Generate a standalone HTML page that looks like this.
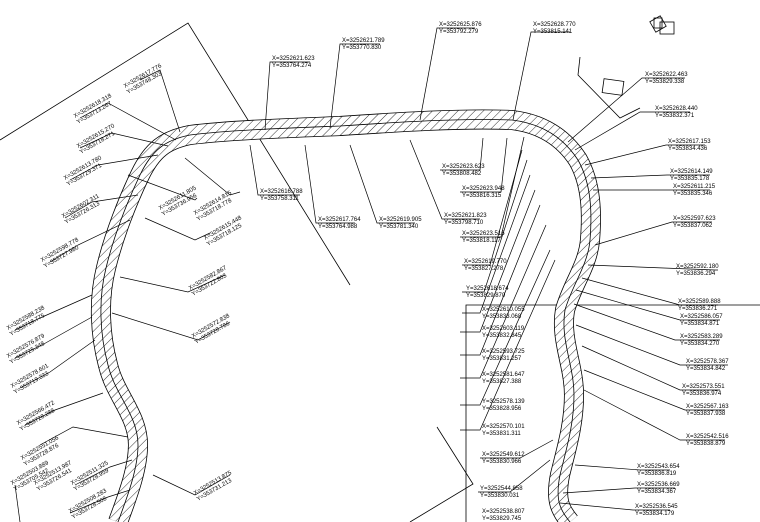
<!DOCTYPE html>
<html><head><style>
html,body{margin:0;padding:0;background:#fff}
svg{display:block}
text{font-family:"Liberation Sans",sans-serif;font-size:6px;fill:#000}
</style></head><body>
<svg width="760" height="522" viewBox="0 0 760 522" xmlns="http://www.w3.org/2000/svg">
<defs>
<pattern id="h" width="6" height="6" patternUnits="userSpaceOnUse" patternTransform="rotate(45)">
<rect width="6" height="6" fill="#fff"/><line x1="0" y1="0" x2="0" y2="6" stroke="#000" stroke-width="0.8"/>
</pattern>
</defs>
<g fill="none" stroke="#000" stroke-width="0.8">
<polyline points="0,140 188,23 350,285"/>
<polyline points="466,522 466,305 760,305"/>
<polyline points="437,427 473,484 410,522"/>
<polyline points="580,57 578,75 620,118 640,108"/>
<rect x="603" y="80" width="20" height="14" transform="rotate(8 613 87)"/>
<rect x="652" y="18" width="12" height="12" transform="rotate(-30 658 24)"/>
<rect x="660" y="22" width="14" height="12"/>
<rect x="654" y="18" width="8" height="10"/>
</g>
<g fill="none">
<path d="M118,522 C126,500 138,470 138,445 C138,415 115,395 108,365 C100,335 98,300 106,268 C114,235 128,200 140,175 C152,150 165,140 190,135 C230,130 290,128 340,126 C400,122 460,118 512,120 C545,124 565,140 578,160 C592,185 592,215 590,240 C588,265 572,285 565,310 C560,340 574,365 574,395 C574,425 566,450 560,475 C555,500 560,510 570,522" stroke="#000" stroke-width="20"/>
<path d="M118,522 C126,500 138,470 138,445 C138,415 115,395 108,365 C100,335 98,300 106,268 C114,235 128,200 140,175 C152,150 165,140 190,135 C230,130 290,128 340,126 C400,122 460,118 512,120 C545,124 565,140 578,160 C592,185 592,215 590,240 C588,265 572,285 565,310 C560,340 574,365 574,395 C574,425 566,450 560,475 C555,500 560,510 570,522" stroke="url(#h)" stroke-width="18.4"/>
<path d="M118,522 C126,500 138,470 138,445 C138,415 115,395 108,365 C100,335 98,300 106,268 C114,235 128,200 140,175 C152,150 165,140 190,135 C230,130 290,128 340,126 C400,122 460,118 512,120 C545,124 565,140 578,160 C592,185 592,215 590,240 C588,265 572,285 565,310 C560,340 574,365 574,395 C574,425 566,450 560,475 C555,500 560,510 570,522" stroke="#000" stroke-width="0.8"/>
</g>
<g fill="none" stroke="#000" stroke-width="0.7">
<polyline points="265,130 270,62 310,62"/>
<polyline points="330,128 340,44 380,44"/>
<polyline points="420,120 437,28 475,28"/>
<polyline points="513,120 531,32 570,32"/>
<polyline points="250,145 258,195 300,195"/>
<polyline points="305,145 316,223 355,223"/>
<polyline points="350,145 377,223 415,223"/>
<polyline points="410,140 442,219 480,219"/>
<polyline points="483,138 480,170 440,170"/>
<polyline points="507,138 501,192 460,192"/>
<polyline points="524,137 501,237 460,237"/>
<polyline points="522,150 490,265 462,265"/>
<polyline points="527,160 484,292 462,292"/>
<polyline points="530,175 480,313 462,313"/>
<polyline points="535,190 480,332 460,332"/>
<polyline points="540,205 480,355 460,355"/>
<polyline points="546,225 480,378 460,378"/>
<polyline points="550,250 480,405 460,405"/>
<polyline points="555,260 480,430 460,430"/>
<polyline points="553,440 520,458 480,458"/>
<polyline points="550,460 510,492 478,492"/>
<polyline points="568,142 642,78 685,78"/>
<polyline points="575,150 640,112 690,112"/>
<polyline points="585,165 666,145 705,145"/>
<polyline points="591,178 667,175 710,175"/>
<polyline points="593,190 670,190 710,190"/>
<polyline points="595,245 672,222 712,222"/>
<polyline points="588,265 715,270 718,270"/>
<polyline points="582,278 680,305 718,305"/>
<polyline points="576,290 680,320 720,320"/>
<polyline points="574,304 675,340 720,340"/>
<polyline points="576,325 680,365 728,365"/>
<polyline points="582,346 680,390 720,390"/>
<polyline points="584,370 685,410 725,410"/>
<polyline points="584,390 680,440 725,440"/>
<polyline points="575,465 640,470 670,470"/>
<polyline points="563,493 635,488 675,488"/>
<polyline points="560,503 633,510 670,510"/>
<polyline points="176,140 108,103 80,118"/>
<polyline points="168,146 112,133 80,148"/>
<polyline points="158,155 98,165 70,180"/>
<polyline points="138,195 92,202 65,218"/>
<polyline points="130,220 78,245 50,262"/>
<polyline points="128,175 195,200 197,198"/>
<polyline points="185,158 230,195 240,192"/>
<polyline points="180,132 160,70 140,80"/>
<polyline points="145,218 195,240 210,233"/>
<polyline points="120,277 188,292 225,275"/>
<polyline points="112,313 198,340 230,322"/>
<polyline points="92,295 40,318 15,330"/>
<polyline points="92,317 42,345 15,358"/>
<polyline points="95,340 50,372 20,388"/>
<polyline points="103,393 55,410 25,425"/>
<polyline points="128,437 73,427 40,445"/>
<polyline points="132,460 110,467 75,485"/>
<polyline points="153,475 195,495 230,475"/>
<polyline points="130,490 108,497 70,513"/>
<polyline points="15,485 20,522"/>
</g>
<g>
<text x="272" y="60">X=3252621.623</text><text x="272" y="67">Y=353764.274</text>
<text x="342" y="42">X=3252621.789</text><text x="342" y="49">Y=353770.830</text>
<text x="439" y="26">X=3252625.876</text><text x="439" y="33">Y=353792.279</text>
<text x="533" y="26">X=3252628.770</text><text x="533" y="33">Y=353815.141</text>
<text x="260" y="193">X=3252616.788</text><text x="260" y="200">Y=353758.311</text>
<text x="318" y="221">X=3252617.764</text><text x="318" y="228">Y=353764.988</text>
<text x="379" y="221">X=3252619.905</text><text x="379" y="228">Y=353781.340</text>
<text x="444" y="217">X=3252621.823</text><text x="444" y="224">Y=353798.710</text>
<text x="442" y="168">X=3252623.623</text><text x="442" y="175">Y=353808.482</text>
<text x="462" y="190">X=3252623.948</text><text x="462" y="197">Y=353816.315</text>
<text x="462" y="235">X=3252623.516</text><text x="462" y="242">Y=353818.117</text>
<text x="464" y="263">X=3252619.770</text><text x="464" y="270">Y=353827.278</text>
<text x="466" y="290">Y=3252618.674</text><text x="466" y="297">Y=353829.870</text>
<text x="482" y="311">X=3252610.055</text><text x="482" y="318">Y=353833.068</text>
<text x="482" y="330">X=3252603.119</text><text x="482" y="337">Y=353832.845</text>
<text x="482" y="353">X=3252593.725</text><text x="482" y="360">Y=353831.257</text>
<text x="482" y="376">X=3252581.647</text><text x="482" y="383">Y=353827.388</text>
<text x="482" y="403">Y=3252578.139</text><text x="482" y="410">Y=353828.956</text>
<text x="482" y="428">X=3252570.101</text><text x="482" y="435">Y=353831.311</text>
<text x="482" y="456">X=3252549.612</text><text x="482" y="463">Y=353830.966</text>
<text x="480" y="490">Y=3252544.858</text><text x="480" y="497">Y=353830.031</text>
<text x="482" y="513">X=3252538.807</text><text x="482" y="520">Y=353829.745</text>
<text x="645" y="76">X=3252622.463</text><text x="645" y="83">Y=353829.338</text>
<text x="655" y="110">X=3252628.440</text><text x="655" y="117">Y=353832.371</text>
<text x="668" y="143">X=3252617.153</text><text x="668" y="150">Y=353834.436</text>
<text x="670" y="173">X=3252614.149</text><text x="670" y="180">Y=353835.178</text>
<text x="673" y="188">X=3252611.215</text><text x="673" y="195">Y=353835.346</text>
<text x="673" y="220">X=3252597.623</text><text x="673" y="227">Y=353837.062</text>
<text x="676" y="268">X=3252592.180</text><text x="676" y="275">Y=353836.294</text>
<text x="678" y="303">X=3252589.888</text><text x="678" y="310">Y=353836.271</text>
<text x="680" y="318">X=3252586.057</text><text x="680" y="325">Y=353834.871</text>
<text x="680" y="338">X=3252583.289</text><text x="680" y="345">Y=353834.270</text>
<text x="686" y="363">X=3252578.367</text><text x="686" y="370">Y=353834.842</text>
<text x="682" y="388">X=3252573.551</text><text x="682" y="395">Y=353836.974</text>
<text x="686" y="408">X=3252567.163</text><text x="686" y="415">Y=353837.938</text>
<text x="686" y="438">X=3252542.516</text><text x="686" y="445">Y=353838.879</text>
<text x="637" y="468">X=3252543.654</text><text x="637" y="475">Y=353836.819</text>
<text x="637" y="486">X=3252536.669</text><text x="637" y="493">Y=353834.367</text>
<text x="635" y="508">X=3252536.545</text><text x="635" y="515">Y=353834.179</text>
</g>
<g style="font-size:5.5px">
<text transform="translate(125,88) rotate(-30)">X=3252617.776</text><text transform="translate(128,94) rotate(-30)">Y=353748.303</text>
<text transform="translate(75,118) rotate(-30)">X=3252618.318</text><text transform="translate(78,124) rotate(-30)">Y=353713.267</text>
<text transform="translate(78,148) rotate(-30)">X=3252615.270</text><text transform="translate(81,154) rotate(-30)">Y=353718.271</text>
<text transform="translate(65,180) rotate(-30)">X=3252613.780</text><text transform="translate(68,186) rotate(-30)">Y=353729.371</text>
<text transform="translate(63,218) rotate(-30)">X=3252602.311</text><text transform="translate(66,224) rotate(-30)">Y=353726.313</text>
<text transform="translate(42,262) rotate(-30)">X=3252598.778</text><text transform="translate(45,268) rotate(-30)">Y=353727.980</text>
<text transform="translate(160,210) rotate(-30)">X=3252611.805</text><text transform="translate(163,216) rotate(-30)">Y=353736.956</text>
<text transform="translate(195,215) rotate(-30)">X=3252614.815</text><text transform="translate(198,221) rotate(-30)">Y=353718.778</text>
<text transform="translate(205,240) rotate(-30)">X=3252615.448</text><text transform="translate(208,246) rotate(-30)">Y=353718.125</text>
<text transform="translate(190,290) rotate(-30)">X=3252582.867</text><text transform="translate(193,296) rotate(-30)">Y=353722.803</text>
<text transform="translate(193,338) rotate(-30)">X=3252572.838</text><text transform="translate(196,344) rotate(-30)">Y=353728.786</text>
<text transform="translate(8,330) rotate(-30)">X=3252588.238</text><text transform="translate(11,336) rotate(-30)">Y=353718.775</text>
<text transform="translate(8,358) rotate(-30)">X=3252576.879</text><text transform="translate(11,364) rotate(-30)">Y=353725.348</text>
<text transform="translate(12,388) rotate(-30)">X=3252578.601</text><text transform="translate(15,394) rotate(-30)">Y=353719.333</text>
<text transform="translate(18,425) rotate(-30)">X=3252566.472</text><text transform="translate(21,431) rotate(-30)">Y=353728.288</text>
<text transform="translate(22,460) rotate(-30)">X=3252551.056</text><text transform="translate(25,466) rotate(-30)">Y=353728.876</text>
<text transform="translate(35,485) rotate(-30)">X=3252513.987</text><text transform="translate(38,491) rotate(-30)">Y=353726.541</text>
<text transform="translate(12,485) rotate(-30)">X=3252503.889</text><text transform="translate(15,491) rotate(-30)">Y=353705.542</text>
<text transform="translate(72,485) rotate(-30)">X=3252511.325</text><text transform="translate(75,491) rotate(-30)">Y=353728.959</text>
<text transform="translate(195,495) rotate(-30)">X=3252513.875</text><text transform="translate(198,501) rotate(-30)">Y=353731.213</text>
<text transform="translate(70,513) rotate(-30)">X=3252508.283</text><text transform="translate(73,519) rotate(-30)">Y=353728.508</text>
</g>
</svg>
</body></html>
